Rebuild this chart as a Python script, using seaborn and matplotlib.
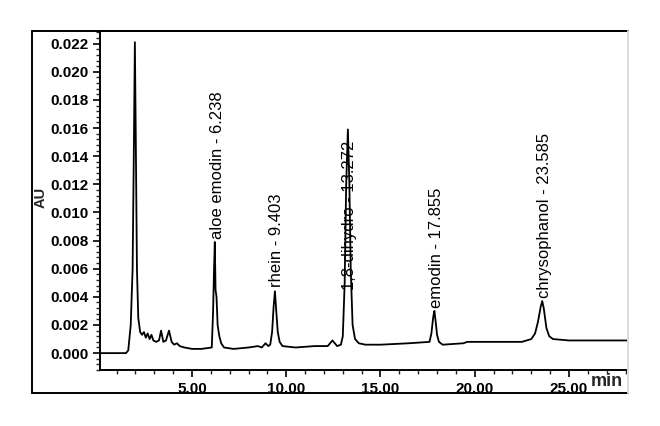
import numpy as np
import pandas as pd
import seaborn as sns
import matplotlib
matplotlib.use("Agg")
import matplotlib.pyplot as plt
from matplotlib.ticker import MultipleLocator, FixedLocator, FuncFormatter
from matplotlib.lines import Line2D

# chromatogram trace (time in min, absorbance in AU)
time_min = [0.12, 1.50, 1.62, 1.75, 1.85, 1.92, 1.97, 2.02, 2.08, 2.15, 2.25,
            2.35, 2.45, 2.55, 2.65, 2.75, 2.85, 2.95, 3.10, 3.25, 3.36, 3.48,
            3.62, 3.78, 3.92, 4.05, 4.20, 4.35, 4.60, 5.00, 5.50, 6.05, 6.12,
            6.17, 6.21, 6.25, 6.30, 6.36, 6.45, 6.55, 6.70, 7.20, 8.00, 8.50,
            8.70, 8.90, 9.05, 9.15, 9.25, 9.33, 9.40, 9.47, 9.55, 9.65, 9.80,
            10.50, 11.50, 12.20, 12.45, 12.70, 12.90, 13.00, 13.10, 13.18,
            13.27, 13.35, 13.42, 13.52, 13.65, 13.85, 14.20, 15.00, 16.50,
            17.60, 17.70, 17.80, 17.86, 17.93, 18.00, 18.10, 18.30, 19.40,
            19.60, 21.00, 22.50, 23.00, 23.20, 23.35, 23.50, 23.58, 23.66,
            23.80, 23.95, 24.15, 25.00, 28.13]
absorbance = [0.0000, 0.0000, 0.0002, 0.0020, 0.0060, 0.0150, 0.0221, 0.0150,
              0.0060, 0.0025, 0.0015, 0.0013, 0.0015, 0.0011, 0.0014, 0.0010,
              0.0013, 0.0009, 0.0008, 0.0009, 0.0016, 0.0008, 0.0009, 0.0016,
              0.0008, 0.0006, 0.0007, 0.0005, 0.0004, 0.0003, 0.0003, 0.0004,
              0.0030, 0.0060, 0.0079, 0.0045, 0.0040, 0.0020, 0.0012, 0.0007,
              0.0004, 0.0003, 0.0004, 0.0005, 0.0004, 0.0007, 0.0005, 0.0006,
              0.0015, 0.0033, 0.0044, 0.0030, 0.0015, 0.0008, 0.0005, 0.0004,
              0.0005, 0.0005, 0.0009, 0.0005, 0.0006, 0.0012, 0.0050, 0.0120,
              0.0159, 0.0120, 0.0060, 0.0020, 0.0010, 0.0007, 0.0006, 0.0006,
              0.0007, 0.0008, 0.0014, 0.0026, 0.0030, 0.0022, 0.0013, 0.0008,
              0.0006, 0.0007, 0.0008, 0.0008, 0.0008, 0.0010, 0.0014, 0.0022,
              0.0033, 0.0037, 0.0032, 0.0018, 0.0012, 0.0010, 0.0009, 0.0009]

peak_names = ["aloe emodin - 6.238", "rhein - 9.403", "1,8-dihydro - 13.272",
              "emodin - 17.855", "chrysophanol - 23.585"]
peak_times = [6.238, 9.403, 13.272, 17.855, 23.585]
label_base = [0.0081, 0.0047, 0.0045, 0.0032, 0.0039]

x_ticks = [5, 10, 15, 20, 25]
y_ticks = [0.000, 0.002, 0.004, 0.006, 0.008, 0.010, 0.012, 0.014, 0.016,
           0.018, 0.020, 0.022]

df = pd.DataFrame({"time": time_min, "AU": absorbance})

sns.set_style("ticks")
plt.rcParams["font.family"] = ["Liberation Sans", "DejaVu Sans"]

fig = plt.figure(figsize=(6.6, 4.26), dpi=100)
ax = fig.add_axes([100 / 660, 1 - 370 / 426, 528 / 660, 339 / 426])

sns.lineplot(data=df, x="time", y="AU", ax=ax, color="black", linewidth=1.3)

for name, t, yb in zip(peak_names, peak_times, label_base):
    ax.text(t + 0.1, yb, name, rotation=90, ha="center", va="bottom",
            fontsize=12, color="black")

ax.set_xlim(0.12, 28.13)
ax.set_ylim(-0.0012, 0.0229)
ax.xaxis.set_major_locator(FixedLocator(x_ticks))
ax.xaxis.set_minor_locator(MultipleLocator(1))
ax.xaxis.set_major_formatter(FuncFormatter(lambda v, p: f"{v:.2f}"))
ax.yaxis.set_major_locator(FixedLocator(y_ticks))
ax.yaxis.set_minor_locator(MultipleLocator(0.0004))
ax.yaxis.set_major_formatter(FuncFormatter(lambda v, p: f"{v:.3f}"))
ax.tick_params(which="major", direction="out", length=5, width=1.2,
               labelsize=11, colors="black")
ax.tick_params(which="minor", direction="out", length=3, width=1.0)
for lab in ax.get_xticklabels() + ax.get_yticklabels():
    lab.set_fontweight("bold")
ax.set_xlabel("")
ax.set_ylabel("")

for side in ["left", "bottom", "top"]:
    ax.spines[side].set_linewidth(1.4)
    ax.spines[side].set_color("black")
ax.spines["right"].set_visible(False)

# outer frame, right edge is only faint
x0, x1 = 32 / 660, 628 / 660
y0, y1 = 1 - 393 / 426, 1 - 31 / 426
for xs, ys, c in [([x0, x0], [y0, y1], "black"), ([x0, x1], [y1, y1], "black"),
                  ([x0, x1], [y0, y0], "black"), ([x1, x1], [y0, y1], "#dddddd")]:
    fig.add_artist(Line2D(xs, ys, transform=fig.transFigure, color=c,
                          linewidth=1.4))

fig.text(41 / 660, 1 - 197 / 426, "AU", rotation=90, ha="center", va="center",
         fontsize=10.5, fontweight="bold")
fig.text(591 / 660, 1 - 382 / 426, "min", ha="left", va="center",
         fontsize=13, fontweight="bold")

fig.savefig("out.png", dpi=100)
